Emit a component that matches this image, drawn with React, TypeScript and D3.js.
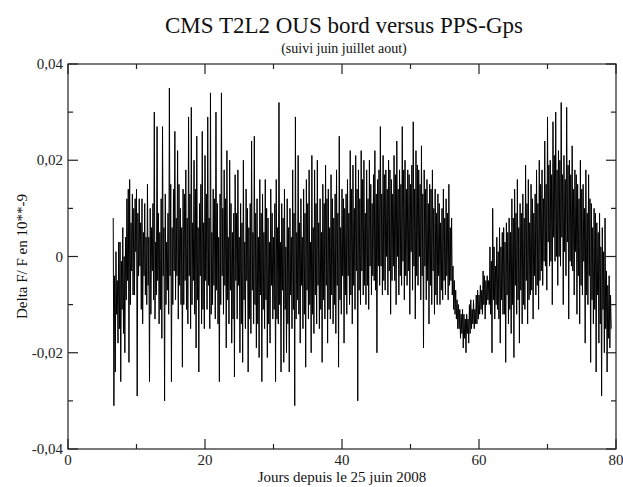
import React, { useEffect, useRef } from 'react';
import * as d3 from 'd3';

// Delta F/F readings, in units of 1e-3 (10**-9 scale), 10 samples per day from day 6.6
const firstDay = 6.6;
const samplesPerDay = 10;
const deltaMilli: number[] = [
  8, -31, -4, -24, 1, -12, -5, -18, 3, -15, // 6.6
  3, -26, -1, -11, 6, -16, 0, -20, 4, -9, // 7.6
  12, -5, 14, -22, 16, -10, 7, -3, 13, -8, // 8.6
  10, -8, 12, 1, 14, -29, 9, -4, 12, -2, // 9.6
  7, -11, 12, -14, 5, -4, 11, -8, 4, -10, // 10.6
  15, -6, 4, -26, 10, -12, 6, -3, 11, -9, // 11.6
  30, -13, 3, -8, 27, -5, 9, -14, 5, -11, // 12.6
  12, -17, 27, -4, 6, -30, 13, -10, 3, -7, // 13.6
  9, -12, 35, -4, 15, -26, 6, -10, 14, -3, // 14.6
  26, -9, 8, -4, 22, -13, 15, -6, 10, -10, // 15.6
  6, -23, 14, -10, 13, -5, 18, -11, 8, -14, // 16.6
  29, -4, 13, -15, 31, -10, 7, -5, 20, -12, // 17.6
  14, -19, 25, -9, 6, -24, 11, -4, 15, -14, // 18.6
  26, -11, 7, -15, 21, -5, 13, -11, 29, -6, // 19.6
  8, -15, 34, -12, 5, -10, 14, -6, 12, -13, // 20.6
  30, -7, 11, -14, 4, -26, 13, -10, 34, -4, // 21.6
  10, -12, 18, -6, 12, -19, 22, -9, 4, -14, // 22.6
  20, -7, 11, -18, 5, -13, 9, -25, 17, -5, // 23.6
  9, -13, 18, -6, 4, -20, 11, -14, 7, -22, // 24.6
  20, -9, 3, -15, 14, -5, 10, -24, 6, -13, // 25.6
  11, -16, 24, -7, 5, -14, 25, -10, 9, -19, // 26.6
  12, -14, 4, -21, 16, -8, 9, -26, 13, -11, // 27.6
  5, -15, 16, -9, 10, -21, 8, -14, 3, -18, // 28.6
  14, -6, 9, -13, 4, -11, 11, -26, 16, -13, // 29.6
  6, -14, 32, -10, 3, -24, 11, -7, 8, -22, // 30.6
  14, -11, 2, -20, 12, -14, 6, -24, 10, -8, // 31.6
  4, -15, 18, -11, 9, -31, 29, -13, 5, -9, // 32.6
  21, -12, 7, -18, 12, -6, 4, -15, 14, -12, // 33.6
  9, -23, 16, -7, 11, -13, 18, -10, 3, -20, // 34.6
  21, -12, 6, -16, 18, -8, 11, -14, 20, -6, // 35.6
  7, -15, 12, -11, 5, -22, 15, -9, 11, -13, // 36.6
  19, -6, 12, -18, 14, -11, 6, -13, 17, -8, // 37.6
  12, -14, 8, -10, 13, -16, 18, -6, 9, -23, // 38.6
  25, -9, 6, -12, 14, -4, 12, -18, 10, -8, // 39.6
  13, -12, 16, -4, 9, -10, 22, -8, 14, -14, // 40.6
  19, -6, 10, -11, 21, -3, 14, -30, 18, -7, // 41.6
  12, -10, 22, -3, 16, -8, 20, -6, 9, -10, // 42.6
  18, -6, 12, -11, 20, -2, 15, -8, 11, -4, // 43.6
  17, -5, 22, -7, 13, -20, 16, -2, 18, -6, // 44.6
  27, -2, 13, -8, 21, -5, 17, -7, 18, 0, // 45.6
  14, -8, 20, -3, 18, -12, 16, -5, 13, -2, // 46.6
  21, -5, 17, -10, 24, 0, 14, -8, 18, -4, // 47.6
  15, -6, 27, -1, 18, -9, 20, -4, 14, -6, // 48.6
  18, -3, 17, -12, 15, 1, 19, -7, 28, -2, // 49.6
  14, -13, 22, -4, 19, -6, 18, 0, 15, -9, // 50.6
  23, -4, 13, -19, 18, -2, 14, -9, 16, -5, // 51.6
  11, -14, 15, -6, 14, -10, 18, -3, 10, -12, // 52.6
  14, -8, 9, -10, 13, -4, 11, -10, 7, -7, // 53.6
  10, -9, 14, -5, 8, -8, 12, -4, 9, -9, // 54.6
  15, -6, 6, -5, 8, -8, -2, -11, -5, -12, // 55.6
  -7, -13, -9, -15, -10, -15, -11, -17, -12, -16, // 56.6
  -11, -19, -12, -17, -13, -20, -12, -16, -13, -18, // 57.6
  -10, -16, -9, -15, -11, -14, -9, -15, -11, -14, // 58.6
  -8, -14, -7, -13, -8, -12, -6, -11, -7, -12, // 59.6
  -3, -10, -4, -13, -5, -10, -4, -9, -5, -10, // 60.6
  2, -12, -1, -20, 10, -9, 2, -13, -2, -10, // 61.6
  4, -11, 1, -13, 6, -18, 2, -9, 5, -12, // 62.6
  6, -12, 3, -22, 7, -8, 5, -14, 8, -11, // 63.6
  5, -16, 12, -10, 8, -21, 14, -6, 9, -12, // 64.6
  16, -9, 6, -18, 11, -7, 9, -14, 13, -10, // 65.6
  8, -11, 19, -5, 11, -14, 16, -9, 7, -8, // 66.6
  15, -7, 12, -13, 9, -4, 13, -8, 18, -6, // 67.6
  11, -11, 20, -5, 15, -3, 18, -6, 12, -1, // 68.6
  24, -2, 15, -7, 29, 3, 19, -2, 20, -1, // 69.6
  17, -10, 28, 4, 21, -1, 30, 0, 18, -6, // 70.6
  22, 0, 20, -2, 32, 4, 17, -10, 21, 1, // 71.6
  16, -4, 31, 3, 19, -13, 20, -1, 17, -2, // 72.6
  23, -3, 14, -8, 18, 1, 17, -12, 15, -4, // 73.6
  12, -14, 20, -6, 14, -8, 15, -1, 10, -18, // 74.6
  18, -8, 9, -10, 17, -4, 12, -22, 11, -9, // 75.6
  6, -14, 10, -11, 9, -24, 7, -8, 5, -18, // 76.6
  9, -14, 2, -29, 6, -11, 1, -20, 8, -15, // 77.6
  -3, -24, -6, -17, -4, -19, -8, -15, // 78.6
];

const xTicks = [0, 20, 40, 60, 80];
const xMinorTicks = [10, 30, 50, 70];
const yTicks = [-0.04, -0.02, 0, 0.02, 0.04];
const yMinorTicks = [-0.03, -0.01, 0.01, 0.03];

const title = 'CMS T2L2 OUS bord versus PPS-Gps';
const subtitle = '(suivi juin juillet aout)';
const xLabel = 'Jours depuis le 25 juin 2008';
const yLabel = 'Delta F/ F en 10**-9';

const W = 623;
const H = 487;
const font = "'Times New Roman', 'Liberation Serif', serif";

const fmtY = (v: number) =>
  v === 0 ? '0' : d3.format('.2f')(v).replace('.', ',').replace('\u2212', '-');

const App: React.FC = () => {
  const svgRef = useRef<SVGSVGElement>(null);

  useEffect(() => {
    if (!svgRef.current) return;
    const svg = d3.select(svgRef.current);
    svg.selectAll('*').remove();

    const x = d3.scaleLinear().domain([0, 80]).range([68, 616]);
    const y = d3.scaleLinear().domain([-0.04, 0.04]).range([449, 64]);
    const [x0, x1] = x.range();
    const [y0, y1] = y.range();

    const pts = deltaMilli.map((v, i) => ({ day: firstDay + i / samplesPerDay, v: v / 1000 }));

    // the signal
    const line = d3.line<{ day: number; v: number }>()
      .x(d => x(d.day))
      .y(d => y(d.v));

    svg.append('path')
      .datum(pts)
      .attr('d', line)
      .attr('fill', 'none')
      .attr('stroke', '#000')
      .attr('stroke-width', 1);

    // frame + mirrored inward ticks
    svg.append('rect')
      .attr('x', x0).attr('y', y1)
      .attr('width', x1 - x0).attr('height', y0 - y1)
      .attr('fill', 'none')
      .attr('stroke', '#222')
      .attr('stroke-width', 1.2);

    const tickG = svg.append('g').attr('stroke', '#222').attr('stroke-width', 1.2);
    const addX = (vals: number[], len: number) => {
      vals.forEach(t => {
        tickG.append('line').attr('x1', x(t)).attr('x2', x(t)).attr('y1', y0).attr('y2', y0 - len);
        tickG.append('line').attr('x1', x(t)).attr('x2', x(t)).attr('y1', y1).attr('y2', y1 + len);
      });
    };
    const addY = (vals: number[], len: number) => {
      vals.forEach(t => {
        tickG.append('line').attr('x1', x0).attr('x2', x0 + len).attr('y1', y(t)).attr('y2', y(t));
        tickG.append('line').attr('x1', x1).attr('x2', x1 - len).attr('y1', y(t)).attr('y2', y(t));
      });
    };
    addX(xTicks, 10);
    addX(xMinorTicks, 5);
    addY(yTicks, 10);
    addY(yMinorTicks, 5);

    svg.append('g').selectAll('text')
      .data(xTicks)
      .enter().append('text')
      .attr('x', d => x(d))
      .attr('y', y0 + 16)
      .attr('text-anchor', 'middle')
      .attr('font-family', font)
      .attr('font-size', 15)
      .attr('fill', '#222')
      .text(d => String(d));

    svg.append('g').selectAll('text')
      .data(yTicks)
      .enter().append('text')
      .attr('x', x0 - 5)
      .attr('y', d => y(d) + 5)
      .attr('text-anchor', 'end')
      .attr('font-family', font)
      .attr('font-size', 15)
      .attr('fill', '#222')
      .text(d => fmtY(d));

    const cx = (x0 + x1) / 2 + 2;
    svg.append('text')
      .attr('x', cx).attr('y', 33)
      .attr('text-anchor', 'middle')
      .attr('font-family', font).attr('font-size', 23)
      .attr('fill', '#111')
      .text(title);
    svg.append('text')
      .attr('x', cx).attr('y', 53)
      .attr('text-anchor', 'middle')
      .attr('font-family', font).attr('font-size', 14)
      .attr('fill', '#111')
      .text(subtitle);
    svg.append('text')
      .attr('x', cx - 2).attr('y', 482)
      .attr('text-anchor', 'middle')
      .attr('font-family', font).attr('font-size', 15)
      .attr('fill', '#111')
      .text(xLabel);
    svg.append('text')
      .attr('transform', `translate(27,${(y0 + y1) / 2}) rotate(-90)`)
      .attr('text-anchor', 'middle')
      .attr('font-family', font).attr('font-size', 15)
      .attr('fill', '#111')
      .text(yLabel);
  }, []);

  return (
    <svg
      ref={svgRef}
      width={W}
      height={H}
      style={{ position: 'absolute', left: 0, top: 0, background: '#fff', display: 'block' }}
    />
  );
};

export default App;
